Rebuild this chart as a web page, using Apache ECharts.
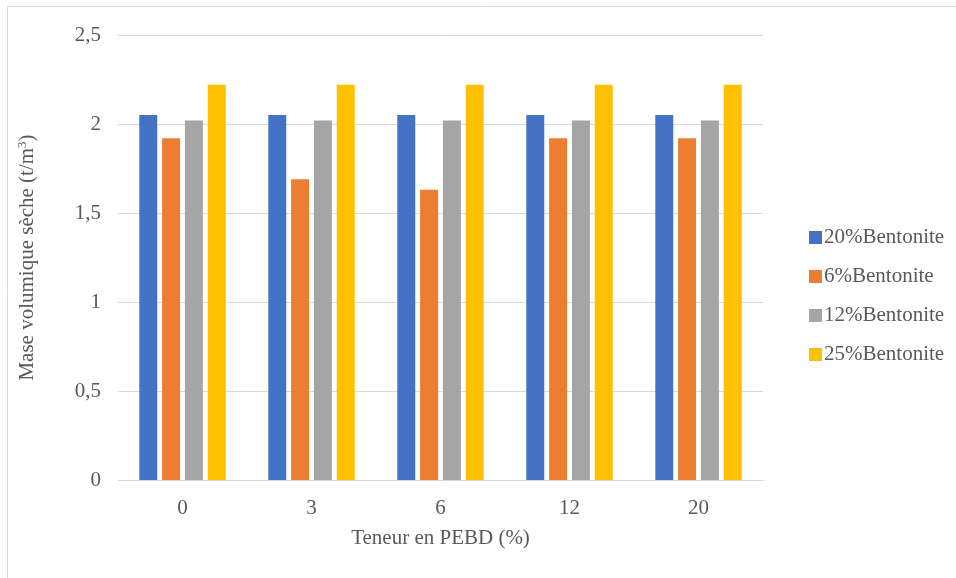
<!DOCTYPE html>
<html>
<head>
<meta charset="utf-8">
<script src="https://cdn.jsdelivr.net/npm/echarts@6/dist/echarts.min.js"></script>
<style>
html,body{margin:0;padding:0;background:#fff;}
#c{width:956px;height:578px;}
</style>
</head>
<body>
<div id="c"></div>
<script>
var categories = ['0', '3', '6', '12', '20'];
var seriesNames = ['20%Bentonite', '6%Bentonite', '12%Bentonite', '25%Bentonite'];
var bent20 = [2.05, 2.05, 2.05, 2.05, 2.05];
var bent6 = [1.92, 1.69, 1.63, 1.92, 1.92];
var bent12 = [2.02, 2.02, 2.02, 2.02, 2.02];
var bent25 = [2.22, 2.22, 2.22, 2.22, 2.22];
var colors = ['#4472C4', '#ED7D31', '#A5A5A5', '#FFC000'];

var FONT = '"Liberation Serif", "Times New Roman", serif';
var TXT = '#595959';
var allData = [bent20, bent6, bent12, bent25];

var chart = echarts.init(document.getElementById('c'), null, {renderer: 'canvas'});
chart.setOption({
  animation: false,
  backgroundColor: '#ffffff',
  color: colors,
  textStyle: {fontFamily: FONT, color: TXT},
  graphic: [{
    type: 'rect',
    shape: {x: 7.5, y: 6.5, width: 970, height: 600},
    style: {fill: 'none', stroke: '#D9D9D9', lineWidth: 1},
    silent: true, z: -10
  }],
  grid: {left: 118, right: 193, top: 35, bottom: 98, containLabel: false},
  legend: {
    orient: 'vertical',
    left: 804,
    top: 222,
    itemWidth: 13,
    itemHeight: 13,
    itemGap: 18,
    icon: 'rect',
    textStyle: {fontFamily: FONT, fontSize: 21, color: TXT, padding: [0, 0, 0, -3]},
    data: seriesNames
  },
  xAxis: {
    type: 'category',
    data: categories,
    name: 'Teneur en PEBD (%)',
    nameLocation: 'middle',
    nameGap: 48,
    nameTextStyle: {fontFamily: FONT, fontSize: 21, color: TXT},
    axisLine: {show: true, lineStyle: {color: '#D9D9D9', width: 1}},
    axisTick: {show: false},
    axisLabel: {fontFamily: FONT, fontSize: 21, color: TXT, margin: 18}
  },
  yAxis: {
    type: 'value',
    min: 0,
    max: 2.5,
    interval: 0.5,
    name: '{a|Mase volumique sèche (t/m}{s|3}{a|)}',
    nameLocation: 'middle',
    nameGap: 79,
    nameRotate: 90,
    nameTextStyle: {
      fontFamily: FONT, color: TXT,
      rich: {
        a: {fontFamily: FONT, fontSize: 21, color: TXT},
        s: {fontFamily: FONT, fontSize: 13, color: TXT, padding: [0, 0, 10, 0]}
      }
    },
    axisLine: {show: false},
    axisTick: {show: false},
    splitLine: {lineStyle: {color: '#D9D9D9', width: 1}},
    axisLabel: {
      fontFamily: FONT, fontSize: 21, color: TXT, margin: 17,
      formatter: function (v) { return String(v).replace('.', ','); }
    }
  },
  series: seriesNames.map(function (n, i) {
    return {
      name: n,
      type: 'bar',
      data: allData[i],
      barGap: '27%',
      barCategoryGap: '33%',
      itemStyle: {color: colors[i]}
    };
  })
});
</script>
</body>
</html>
